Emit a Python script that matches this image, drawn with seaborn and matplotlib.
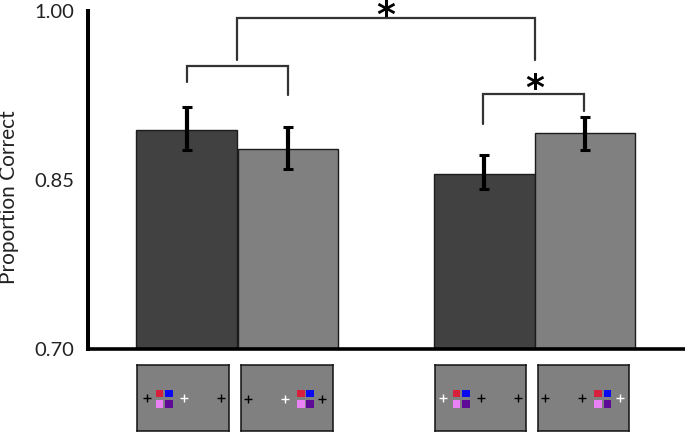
import numpy as np
import pandas as pd
import matplotlib
matplotlib.use("Agg")
import matplotlib.pyplot as plt
import seaborn as sns

conditions = ['near_a', 'far_a', 'near_b', 'far_b']
slots = [0, 1.01, 2.965, 3.965]
means = [0.894, 0.8775, 0.855, 0.892]
err_low = [0.8766, 0.8598, 0.8420, 0.8766]
err_high = [0.915, 0.897, 0.872, 0.906]
bar_colors = ['#414141', '#808080', '#414141', '#808080']
yticks = [0.70, 0.85, 1.00]

square_names = ['red', 'blue', 'pink', 'purple']
square_colors = ['#d7203c', '#0a0af0', '#e882f5', '#5d0a96']
# panels: left px, squares left px, cross x's, cross colours, cross y
panels = [
    (137, 22.5, [9.7, 47, 84.7], ['k', 'w', 'k'], 32.7),
    (241, 60, [7.3, 44.3, 81.7], ['k', 'w', 'k'], 34),
    (434.5, 22, [9, 47, 83.7], ['w', 'k', 'k'], 32.7),
    (538, 60.3, [7.3, 44.3, 82], ['k', 'k', 'w'], 32.7),
]

W, H = 685, 432
sns.set_style("white")
plt.rcParams['font.family'] = ['Lato', 'DejaVu Sans']
fig = plt.figure(figsize=(W / 100, H / 100), dpi=100)
ax = fig.add_axes([88 / W, 1 - 349 / H, (W - 88) / W, 338 / H])

data = pd.DataFrame({'slot': slots, 'cond': conditions, 'mean': means})
sns.barplot(data=data, x='slot', y='mean', hue='cond', palette=bar_colors, native_scale=True,
            width=1, dodge=False, legend=False, edgecolor='#1c1c1c', linewidth=1, ax=ax)
# 100.5 px per slot, first bar centred at 186.5 px
ax.set_xlim((88 - 186.5) / 100.5, (W - 186.5) / 100.5)
ax.set_ylim(0.70, 1.00)

means_a = np.array(means)
ax.errorbar(slots, means, yerr=[means_a - np.array(err_low), np.array(err_high) - means_a], fmt='none',
            ecolor='k', elinewidth=3, capsize=3.6, capthick=2.2, zorder=5)

ax.set_yticks(yticks)
ax.set_yticklabels(['%.2f' % t for t in yticks], fontsize=14.5, color='#222222')
ax.tick_params(axis='y', length=0, pad=10)
ax.set_xticks([])
ax.set_xlabel('')
ax.set_ylabel('')
sns.despine(ax=ax)
ax.spines['left'].set_linewidth(2.9)
ax.spines['bottom'].set_linewidth(2.6)
ax.spines['left'].set_color('k')
ax.spines['bottom'].set_color('k')

# brackets and stars in a full-figure overlay, pixel coordinates
over = fig.add_axes([0, 0, 1, 1], facecolor='none')
over.set_xlim(0, W)
over.set_ylim(H, 0)
over.axis('off')
over.text(9, 197, 'Proportion Correct', fontsize=15, color='#222222', rotation=90, ha='center', va='center')
brackets = [(187, 288, 66, 82, 95), (237, 535, 18, 60, 60), (483, 584, 94, 124, 111)]
for x0, x1, top, y0, y1 in brackets:
    over.plot([x0, x0, x1, x1], [y0, top, top, y1], color='#333333', lw=1.6, solid_joinstyle='miter')
over.text(386, 16, '*', fontsize=26, fontweight='bold', ha='center', va='center', color='k', family='DejaVu Sans')
over.text(534.5, 89, '*', fontsize=26, fontweight='bold', ha='center', va='center', color='k', family='DejaVu Sans')

# stimulus thumbnails under the bars
for left, sq_left, cross_x, cross_c, cross_y in panels:
    p = fig.add_axes([left / W, 1 - 431 / H, 91.5 / W, 66 / H], facecolor='#808080')
    sq = pd.DataFrame({'x': [sq_left, sq_left + 9.5, sq_left, sq_left + 9.5], 'y': [28.5, 28.5, 39, 39],
                       'name': square_names})
    sns.scatterplot(data=sq, x='x', y='y', hue='name', palette=square_colors, marker='s', s=31,
                    linewidth=0, legend=False, ax=p)
    for cx, cc in zip(cross_x, cross_c):
        p.plot([cx], [cross_y], marker='+', color=cc, ms=5.5, mew=1)
    p.set_xlim(0, 92)
    p.set_ylim(66, 0)
    p.set_xticks([])
    p.set_yticks([])
    p.set_xlabel('')
    p.set_ylabel('')
    for s in p.spines.values():
        s.set_linewidth(1.1)
        s.set_color('#111111')

fig.savefig('out.png', dpi=100)
